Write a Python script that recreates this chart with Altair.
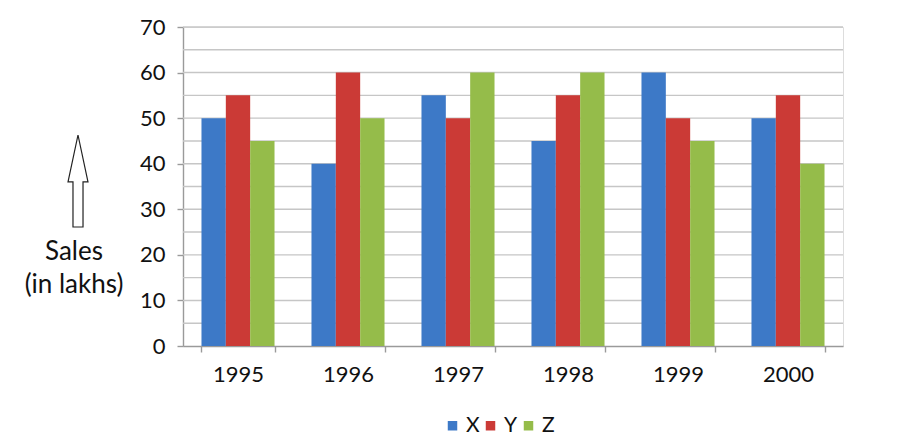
import altair as alt
import pandas as pd

years = ["1995", "1996", "1997", "1998", "1999", "2000"]
x_vals = [50, 40, 55, 45, 60, 50]
y_vals = [55, 60, 50, 55, 50, 55]
z_vals = [45, 50, 60, 60, 45, 40]
series = ["X", "Y", "Z"]
colors = ["#3D79C7", "#CB3A36", "#95BC4A"]
y_ticks = [0, 10, 20, 30, 40, 50, 60, 70]
grid_vals = [5, 10, 15, 20, 25, 30, 35, 40, 45, 50, 55, 60, 65, 70]

rows = []
for i, yr in enumerate(years):
    for s, vals in zip(series, [x_vals, y_vals, z_vals]):
        rows.append({"year": yr, "series": s, "sales": vals[i]})
df = pd.DataFrame(rows)
grid_df = pd.DataFrame({"v": grid_vals})

FONT = "Lato"
yscale = alt.Scale(domain=[0, 70], nice=False, zero=True)
yaxis = alt.Axis(title=None, values=y_ticks, grid=False, labelFont=FONT,
                 labelFontSize=22, labelColor="#111", labelPadding=12,
                 domainColor="#9a9a9a", domainWidth=1.4, tickColor="#9a9a9a",
                 tickSize=6, tickWidth=1.4)

grid = alt.Chart(grid_df).mark_rule(color="#c6c6c6", strokeWidth=1.4).encode(
    y=alt.Y("v:Q", scale=yscale, axis=yaxis),
    x=alt.value(0), x2=alt.value(660),
)

bars = alt.Chart(df).mark_bar().encode(
    x=alt.X("year:N", sort=years,
            scale=alt.Scale(paddingInner=0.336, paddingOuter=0.168),
            axis=alt.Axis(title=None, labelAngle=0, labelFont=FONT, labelFontSize=22,
                          labelColor="#111", labelPadding=12, domainColor="#9a9a9a",
                          domainWidth=1.4, tickColor="#9a9a9a", tickSize=6, tickWidth=1.4,
                          tickBand="extent", grid=False)),
    xOffset=alt.XOffset("series:N", sort=series, scale=alt.Scale(paddingInner=0, paddingOuter=0)),
    y=alt.Y("sales:Q", scale=yscale, axis=yaxis),
    color=alt.Color("series:N", sort=series,
                    scale=alt.Scale(domain=series, range=colors),
                    legend=alt.Legend(title=None, orient="none", direction="horizontal",
                                      legendX=259, legendY=388, symbolType="square",
                                      symbolSize=90, symbolStrokeWidth=0, labelFont=FONT,
                                      labelFontSize=21, labelColor="#111", labelOffset=3,
                                      columnPadding=0, padding=0)),
)

arrow = alt.Chart(pd.DataFrame({"a": [0]})).mark_point(
    shape="M0,-1 L0.217,0.02 L0.109,0.02 L0.109,1 L-0.109,1 L-0.109,0.02 L-0.217,0.02 Z",
    size=8464, filled=True, fill="white", stroke="#222", strokeWidth=1.2, opacity=1,
).encode(x=alt.value(-105), y=alt.value(154))

lab1 = alt.Chart(pd.DataFrame({"a": [0]})).mark_text(
    text="Sales", font=FONT, fontSize=26, color="#111", align="center", baseline="middle"
).encode(x=alt.value(-109), y=alt.value(225))

lab2 = alt.Chart(pd.DataFrame({"a": [0]})).mark_text(
    text="(in lakhs)", font=FONT, fontSize=26, color="#111", align="center", baseline="middle"
).encode(x=alt.value(-109), y=alt.value(258))

chart = alt.layer(grid, bars, arrow, lab1, lab2).properties(
    width=660, height=319,
    autosize=alt.AutoSizeParams(type="none"),
    padding={"left": 175, "top": 19, "right": 60, "bottom": 92},
).configure_view(stroke=None).configure(background="white")

chart.save("out.html", embed_options={"renderer": "svg", "actions": False})
